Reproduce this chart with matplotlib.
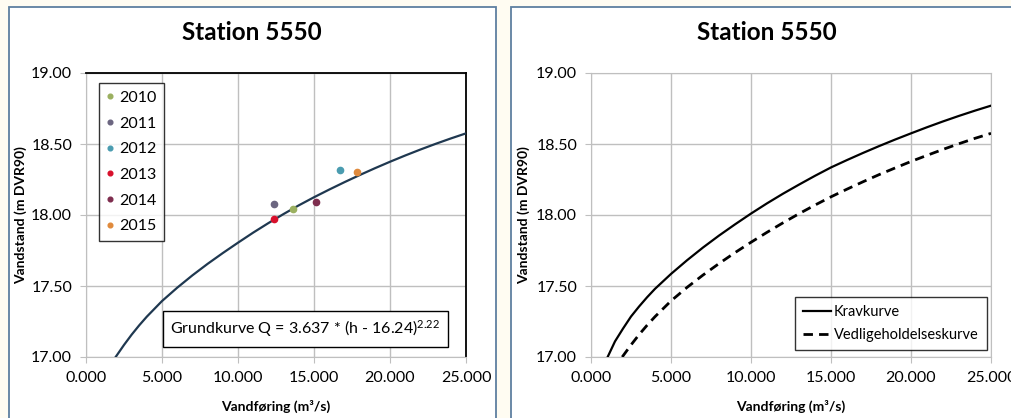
import matplotlib
matplotlib.use("Agg")
import matplotlib.pyplot as plt
from matplotlib.patches import Rectangle

plt.rcParams['font.family'] = ['Lato', 'DejaVu Sans']
plt.rcParams['mathtext.fontset'] = 'custom'
plt.rcParams['mathtext.rm'] = 'Lato'
plt.rcParams['mathtext.it'] = 'Lato:italic'

# --- data ---
title = "Station 5550"
x_label = "Vandføring (m³/s)"
y_label = "Vandstand (m DVR90)"
x_ticks = [0, 5, 10, 15, 20, 25]
y_ticks = [17.0, 17.5, 18.0, 18.5, 19.0]

# grundkurve (left panel)
grund_q = [1.95, 2.5, 3.0, 3.5, 4.0, 5.0, 6.0, 7.0, 8.0, 9.0, 10.0, 11.0, 12.0, 13.0,
           14.0, 15.0, 16.0, 17.0, 18.0, 19.0, 20.0, 21.0, 22.0, 23.0, 24.0, 25.0]
grund_h = [17.00, 17.085, 17.157, 17.223, 17.284, 17.394, 17.488, 17.575, 17.656, 17.732,
           17.805, 17.876, 17.943, 18.007, 18.068, 18.125, 18.179, 18.231, 18.281, 18.329,
           18.375, 18.419, 18.461, 18.501, 18.539, 18.575]
grund_text = r"Grundkurve Q = 3.637 * (h - 16.24)$^{2.22}$"

# yearly measurements
years = ["2010", "2011", "2012", "2013", "2014", "2015"]
meas_q = [13.6, 12.37, 16.71, 12.37, 15.1, 17.8]
meas_h = [18.04, 18.075, 18.315, 17.97, 18.095, 18.305]
year_colors = ["#9BB060", "#6B6580", "#4A9CB0", "#D8102C", "#7E2D4E", "#E08A3C"]

# right panel curves
krav_q = [1.04, 1.5, 2.0, 2.5, 3.0, 3.5, 4.0, 5.0, 6.0, 7.0, 8.0, 9.0, 10.0, 11.0, 12.0,
          13.0, 14.0, 15.0, 16.0, 17.0, 18.0, 19.0, 20.0, 21.0, 22.0, 23.0, 24.0, 25.0]
krav_h = [17.00, 17.11, 17.20, 17.285, 17.355, 17.42, 17.48, 17.585, 17.681, 17.771,
          17.855, 17.934, 18.01, 18.082, 18.150, 18.214, 18.276, 18.335, 18.387, 18.437,
          18.485, 18.531, 18.575, 18.618, 18.659, 18.698, 18.735, 18.770]
vedl_q = [1.95, 2.5, 3.0, 3.5, 4.0, 5.0, 6.0, 7.0, 8.0, 9.0, 10.0, 11.0, 12.0, 13.0,
          14.0, 15.0, 16.0, 17.0, 18.0, 19.0, 20.0, 21.0, 22.0, 23.0, 24.0, 25.0]
vedl_h = [17.00, 17.085, 17.157, 17.223, 17.284, 17.395, 17.49, 17.577, 17.658, 17.735,
          17.808, 17.878, 17.945, 18.009, 18.07, 18.128, 18.182, 18.234, 18.284, 18.331,
          18.377, 18.42, 18.462, 18.502, 18.54, 18.575]

W, H = 1012, 418
fig = plt.figure(figsize=(W / 100, H / 100), dpi=100)
fig.patch.set_facecolor("#FFFCF2")

# panel frames
for x0, x1 in [(9, 496), (511, 1030)]:
    fig.patches.append(Rectangle((x0 / W, -0.05), (x1 - x0) / W, (H - 7) / H + 0.05,
                                 transform=fig.transFigure, facecolor="white",
                                 edgecolor="#5E7FA0", linewidth=1.3, zorder=-5))

grid_c = "#BFBFBF"


def style_axes(ax, boxed):
    ax.set_zorder(2)
    ax.set_xlim(0, 25)
    ax.set_ylim(17, 19)
    ax.set_xticks(x_ticks)
    ax.set_xticklabels([f"{v:.3f}" for v in x_ticks])
    ax.set_yticks(y_ticks)
    ax.set_yticklabels([f"{v:.2f}" for v in y_ticks])
    ax.grid(True, color=grid_c, linewidth=1.0)
    ax.set_axisbelow(True)
    ax.tick_params(axis="both", direction="out", length=4, color=grid_c,
                   labelsize=11.5, pad=6)
    for s in ["left", "bottom"]:
        ax.spines[s].set_color(grid_c)
    for s in ["top", "right"]:
        if boxed:
            ax.spines[s].set_color("black")
            ax.spines[s].set_linewidth(1.3)
        else:
            ax.spines[s].set_color(grid_c)
    ax.set_xlabel(x_label, fontsize=10, fontweight="bold")
    ax.set_ylabel(y_label, fontsize=10, fontweight="bold")
    ax.xaxis.set_label_coords(0.5, -0.152)


# left panel
ax1 = fig.add_axes([86 / W, (H - 357) / H, 380 / W, 284 / H])
style_axes(ax1, True)
ax1.yaxis.set_label_coords(-0.155, 0.5)
ax1.plot(grund_q, grund_h, color="#1F3850", linewidth=1.6, zorder=3)
for yr, q, h, c in zip(years, meas_q, meas_h, year_colors):
    ax1.plot([q], [h], "o", color=c, markersize=4.5, label=yr, zorder=4)
leg1 = ax1.legend(loc="upper left", bbox_to_anchor=(0.034, 0.966), borderaxespad=0,
                  fontsize=11.5, frameon=True, fancybox=False, edgecolor="black",
                  handlelength=0.4, handletextpad=0.35, labelspacing=0.72,
                  borderpad=0.5, markerscale=0.75)
leg1.get_frame().set_linewidth(1.0)
ax1.text(0.577, 0.099, grund_text, transform=ax1.transAxes, ha="center", va="center",
         fontsize=11.5, bbox=dict(boxstyle="square,pad=0.45", facecolor="white",
                                  edgecolor="black", linewidth=1.0), zorder=5)
fig.text(252 / W, 1 - 33 / H, title, ha="center", va="center", fontsize=17.5,
         fontweight="bold")

# right panel
ax2 = fig.add_axes([591 / W, (H - 357) / H, 400 / W, 284 / H])
style_axes(ax2, False)
ax2.yaxis.set_label_coords(-0.1525, 0.5)
ax2.plot(krav_q, krav_h, color="black", linewidth=1.6, label="Kravkurve", zorder=3)
ax2.plot(vedl_q, vedl_h, color="black", linewidth=2.0, dashes=(3.4, 2.2),
         label="Vedligeholdelseskurve", zorder=3)
leg2 = ax2.legend(loc="lower right", bbox_to_anchor=(0.989, 0.025), borderaxespad=0,
                  fontsize=10.5, frameon=True, fancybox=False, edgecolor="black",
                  handlelength=1.9, handletextpad=0.2, labelspacing=0.6, borderpad=0.55)
leg2.get_frame().set_linewidth(1.0)
fig.text(767 / W, 1 - 33 / H, title, ha="center", va="center", fontsize=17.5,
         fontweight="bold")

fig.savefig("out.png", dpi=100, facecolor=fig.get_facecolor())
